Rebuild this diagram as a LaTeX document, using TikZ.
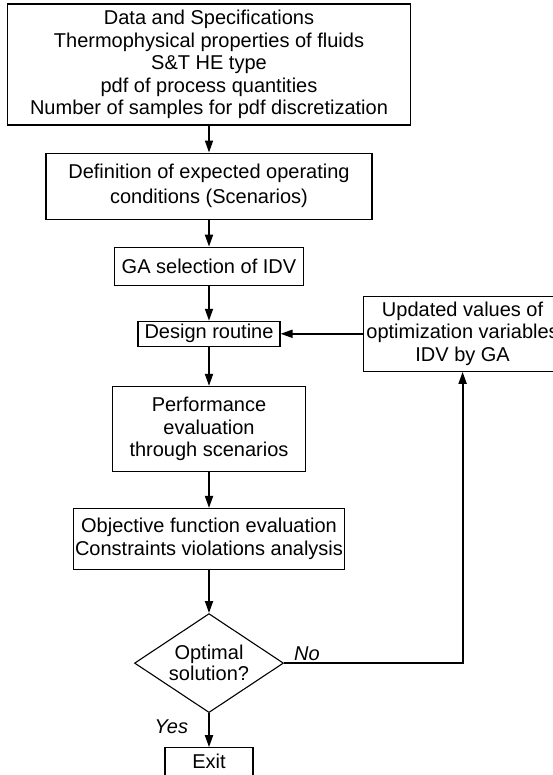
\documentclass[tikz,border=0pt]{standalone}
\usepackage{fontspec}
\setmainfont{Liberation Sans}
\usetikzlibrary{arrows.meta,positioning,shapes.geometric}

\begin{document}
\begin{tikzpicture}[
    x=1pt, y=-1pt,
    >={Triangle[length=12pt,width=8pt]},
    box/.style={draw, line width=1.1pt, align=center, inner sep=0pt, font=\fontsize{20}{22.5}\selectfont},
    decision/.style={draw, diamond, aspect=1.5, line width=1.1pt, align=center, inner sep=0pt, font=\fontsize{20}{21}\selectfont},
    line/.style={->, line width=1.8pt},
    tag/.style={font=\fontsize{20}{22}\selectfont\itshape, inner sep=2pt}
]
\useasboundingbox (0,0) rectangle (552,775);

% Input data and scenario definition.
\node[box, minimum width=403pt, minimum height=121pt] (data) at (209,64.5) {Data and Specifications\\Thermophysical properties of fluids\\S\&T HE type\\pdf of process quantities\\Number of samples for pdf discretization};
\node[box, minimum width=326pt, minimum height=66pt, below=27pt of data, font=\fontsize{20}{25}\selectfont] (scen) {Definition of expected operating\\conditions (Scenarios)};

% GA optimization loop.
\node[box, minimum width=189pt, minimum height=38pt, below=27pt of scen] (ga) {GA selection of IDV};
\node[box, minimum width=142pt, minimum height=25pt, below=35pt of ga] (design) {Design routine};
\node[box, minimum width=193pt, minimum height=85pt, below=39pt of design] (perf) {Performance\\evaluation\\through scenarios};
\node[box, minimum width=271pt, minimum height=61pt, below=36pt of perf] (obj) {Objective function evaluation\\Constraints violations analysis};
\node[decision, minimum width=149pt, minimum height=99pt, below=43pt of obj] (opt) {Optimal\\solution?};
\node[box, minimum width=88pt, minimum height=28pt, below=34pt of opt] (exit) {Exit};
\node[box, minimum width=199pt, minimum height=75pt, right=82pt of design] (upd) {Updated values of\\optimization variables\\IDV by GA};

% Main arrows.
\draw[line] (data) -- (scen);
\draw[line] (scen) -- (ga);
\draw[line] (ga) -- (design);
\draw[line] (design) -- (perf);
\draw[line] (perf) -- (obj);
\draw[line] (obj) -- (opt);
\draw[line] (opt) -- node[tag, left=18pt, pos=0.4]{Yes} (exit);

% Feedback path back to the design routine.
\draw[line] (opt.east) -| node[tag, pos=0.02, anchor=south west]{No} (upd.south);
\draw[line] (upd) -- (design);

\end{tikzpicture}
\end{document}
